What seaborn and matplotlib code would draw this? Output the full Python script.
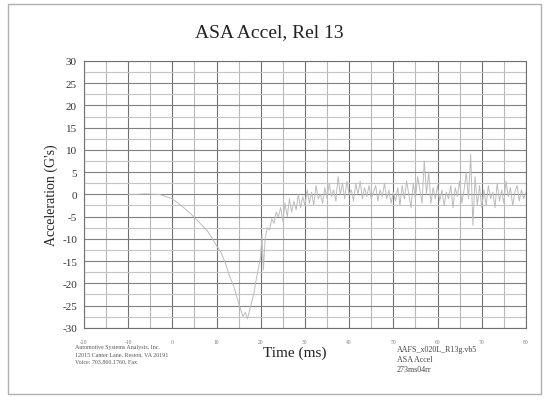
import numpy as np
import matplotlib
matplotlib.use("Agg")
import matplotlib.pyplot as plt
import seaborn as sns
from matplotlib.patches import Rectangle

# 曲线数据
pulse_time = [-10, -8, -6, -4, -3, -2, 0, 2, 4, 6, 8, 10, 11, 12, 13, 14,
              15, 15.5, 16, 16.5, 17, 17.5, 18, 18.5, 19, 19.5, 20, 20.3,
              20.6, 21, 21.5, 22, 22.5, 23, 23.5, 24]
pulse_accel = [0, 0, 0.1, 0, 0, -0.3, -1.0, -2.5, -4.2, -6.2, -8.3, -11.5,
               -13, -15.5, -18.5, -21, -24.5, -26, -27.5, -26.5, -28, -26,
               -24, -22, -19, -16.5, -14, -9, -17, -10, -7.5, -8, -5.5,
               -6.5, -4, -5]

noise_time = [24.5, 25, 25.5, 26, 26.5, 27, 27.5, 28, 28.5, 29, 29.5, 30,
              30.5, 31, 31.5, 32, 32.5, 33, 33.5, 34, 34.5, 35,
              35.5, 36, 36.5, 37, 37.5, 38, 38.5, 39, 39.5, 40,
              40.5, 41, 41.5, 42, 42.5, 43, 43.5, 44, 44.5, 45,
              45.5, 46, 46.5, 47, 47.5, 48, 48.5, 49, 49.5, 50,
              50.5, 51, 51.5, 52, 52.5, 53, 53.5, 54, 54.5, 55,
              55.5, 56, 56.5, 57, 57.5, 58, 58.5, 59, 59.5, 60,
              60.5, 61, 61.5, 62, 62.5, 63, 63.5, 64, 64.5, 65,
              65.5, 66, 66.5, 67, 67.5, 68, 68.5, 69, 69.5, 70,
              70.5, 71, 71.5, 72, 72.5, 73, 73.5, 74, 74.5, 75,
              75.5, 76, 76.5, 77, 77.5, 78, 78.5, 79, 79.5, 80]
noise_accel = [-3, -6, -2, -5, -1, -4, -1.5, -3.5, 0, -3, -0.5, -2.5,
               1, -2, 0.5, -2.5, 2, -1, 0, -2, 1.5, -1,
               2.5, -0.5, 1, -1.5, 4, 0, 2.5, -1, 3, 0,
               1, -1.5, 2.5, 0, 3, -1, 1.5, -0.5, 2, -1,
               0.5, 2, -1.5, 1, -0.5, 2.5, -1, 1, -2, 0.5,
               -1.5, 1.5, -2.5, 2, -1, 3, 0, -3, 2.5, -1,
               4, 1, -2, 7.5, 0, 5, -2, 1.5, -1, 2,
               -1.5, 1, -2.5, 0.5, -1, 2, -3, 1.5, -0.5, 3,
               -2, 1, 5, -1, 9, -7, 4, -2.5, 2, -3,
               1, -2.5, 2, -1, 0.5, -3, 2.5, -1.5, 1, -2,
               3, -0.5, 1.5, -2.5, 0.5, 2, -1.5, 1, -1, 0.5]

time_ms = pulse_time + noise_time
accel_g = pulse_accel + noise_accel

x_ticks = [-20, -10, 0, 10, 20, 30, 40, 50, 60, 70, 80]
y_ticks = [-30, -25, -20, -15, -10, -5, 0, 5, 10, 15, 20, 25, 30]

sns.set_style("white")
plt.rcParams['font.family'] = ['Liberation Serif', 'DejaVu Serif']
plt.rcParams['axes.unicode_minus'] = False

fig = plt.figure(figsize=(5.45, 4.02), dpi=100)
ax = fig.add_axes([0.154, 0.182, 0.811, 0.664])

# 网格：主线深，次线浅
for v in np.arange(-20, 81, 5):
    ax.axvline(v, color="#707070" if v % 10 == 0 else "#b8b8b8", lw=0.8, zorder=0)
for v in np.arange(-30, 31, 2.5):
    ax.axhline(v, color="#808080" if v % 5 == 0 else "#c4c4c4", lw=0.8, zorder=0)

sns.lineplot(x=time_ms, y=accel_g, ax=ax, color="#bcbcbc", lw=0.7, zorder=3)

ax.set_xlim(-20, 80)
ax.set_ylim(-30, 30)
ax.set_xticks(x_ticks)
ax.set_xticks(np.arange(-20, 81, 5), minor=True)
ax.set_yticks(y_ticks)
ax.tick_params(axis="x", which="both", direction="out", length=2, color="#888888",
               labelsize=4, labelcolor="#777777", pad=6)
ax.tick_params(axis="y", direction="out", length=3, color="#666666",
               labelsize=8, labelcolor="#333333", pad=2)
for s in ax.spines.values():
    s.set_color("#707070")
    s.set_linewidth(0.8)

ax.set_ylabel("Acceleration (G's)", fontsize=10, color="#222222", labelpad=3)
fig.text(0.54, 0.122, "Time (ms)", fontsize=11, color="#222222", ha="center", va="center")
fig.text(0.495, 0.92, "ASA Accel, Rel 13", fontsize=14, color="#222222", ha="center", va="center")

fig.text(0.138, 0.118, "Automotive Systems Analysis, Inc.\n12015 Canter Lane, Reston, VA 20191\nVoice: 703.860.1760, Fax",
         fontsize=4.3, color="#555555", ha="left", va="center", linespacing=1.5)
fig.text(0.728, 0.105, "AAFS_x020L_R13g.vb5\nASA Accel\n273ms04rr",
         fontsize=5.8, color="#444444", ha="left", va="center", linespacing=1.3)

fig.patches.append(Rectangle((0.015, 0.018), 0.978, 0.97, transform=fig.transFigure,
                             fill=False, edgecolor="#b0b0b0", lw=1.0))

fig.savefig("out.png", dpi=100)
